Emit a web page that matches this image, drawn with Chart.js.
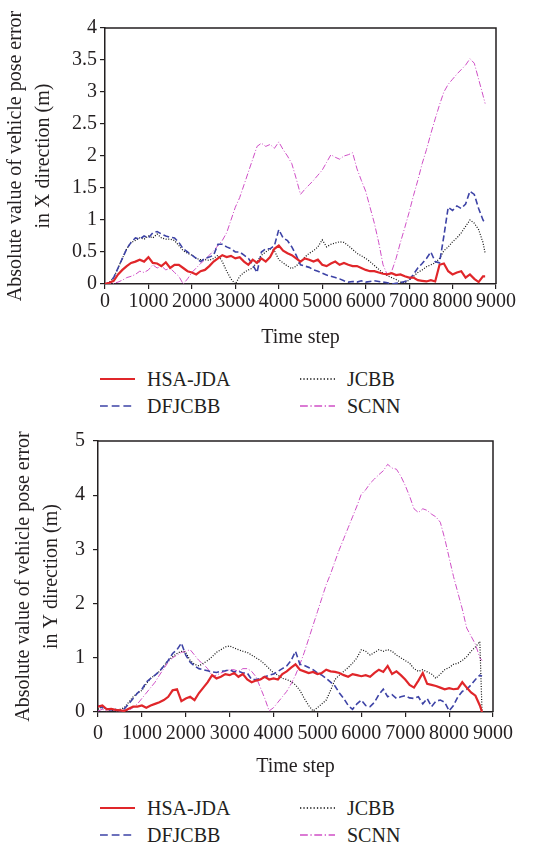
<!DOCTYPE html>
<html>
<head>
<meta charset="utf-8">
<script src="https://cdn.jsdelivr.net/npm/chart.js@4.4.1/dist/chart.umd.min.js"></script>
<style>
  html, body { margin: 0; padding: 0; background: #fff; }
  body { width: 538px; height: 846px; position: relative; overflow: hidden;
         font-family: "Liberation Serif", "DejaVu Serif", serif; color: #231f20; }
  canvas { position: absolute; left: 0; }
  .legend-item { position: absolute; height: 24px; display: flex; align-items: center;
                 font-size: 20px; white-space: nowrap; }
  .legend-item span { margin-left: 12px; }
</style>
</head>
<body>
<canvas id="errorChartX" width="538" height="350" style="top:0px"></canvas>
<div id="legendX"></div>
<canvas id="errorChartY" width="538" height="359" style="top:420px"></canvas>
<div id="legendY"></div>

<script>
// time steps (shared by every series)
const steps = [0,100,200,300,400,500,600,700,800,900,1000,1100,1200,1300,1400,1500,1600,1700,1800,1900,
  2000,2100,2200,2300,2400,2500,2600,2700,2800,2900,3000,3100,3200,3300,3400,3500,3600,3700,3800,3900,
  4000,4100,4200,4300,4400,4500,4600,4700,4800,4900,5000,5100,5200,5300,5400,5500,5600,5700,5800,5900,
  6000,6100,6200,6300,6400,6500,6600,6700,6800,6900,7000,7100,7200,7300,7400,7500,7600,7700,7800,7900,
  8000,8100,8200,8300,8400,8500,8600,8700,8750];

const seriesNames = ['HSA-JDA', 'DFJCBB', 'JCBB', 'SCNN'];

// X direction error (m)
const hsaX = [0,0.02,0.05,0.15,0.22,0.28,0.33,0.35,0.38,0.35,0.42,0.33,0.32,0.28,0.34,0.25,0.3,0.3,0.25,0.2,
  0.18,0.15,0.2,0.22,0.28,0.35,0.4,0.45,0.42,0.44,0.4,0.42,0.35,0.3,0.38,0.33,0.4,0.35,0.42,0.55,
  0.6,0.52,0.48,0.45,0.4,0.35,0.4,0.38,0.35,0.38,0.3,0.28,0.32,0.35,0.3,0.33,0.3,0.28,0.28,0.25,
  0.22,0.2,0.2,0.18,0.16,0.15,0.17,0.14,0.15,0.12,0.1,0.1,0.06,0.05,0.04,0.06,0.04,0.3,0.32,0.2,
  0.15,0.18,0.2,0.1,0.15,0.08,0.03,0.12,0.12];
const dfjcbbX = [0,0.02,0.1,0.25,0.4,0.55,0.65,0.72,0.7,0.75,0.72,0.8,0.82,0.78,0.75,0.73,0.72,0.65,0.55,0.5,
  0.45,0.4,0.35,0.4,0.42,0.45,0.62,0.62,0.58,0.55,0.5,0.5,0.45,0.4,0.3,0.18,0.5,0.55,0.55,0.6,
  0.85,0.72,0.68,0.58,0.45,0.3,0.28,0.26,0.22,0.2,0.17,0.14,0.12,0.1,0.08,0.05,0.03,0.04,0.03,0.05,
  0.03,0.04,0.05,0.04,0.03,0.02,0,0.01,0.02,0.04,0.06,0.15,0.25,0.32,0.4,0.5,0.35,0.33,0.75,1.2,
  1.15,1.22,1.18,1.25,1.45,1.4,1.18,1.0,0.95];
const jcbbX = [0,0.02,0.1,0.25,0.4,0.55,0.65,0.68,0.72,0.7,0.75,0.72,0.78,0.72,0.7,0.7,0.68,0.6,0.52,0.48,
  0.45,0.4,0.38,0.38,0.37,0.4,0.45,0.35,0.2,0.08,0,0.12,0.18,0.22,0.25,0.35,0.45,0.5,0.55,0.52,
  0.38,0.33,0.28,0.24,0.28,0.35,0.42,0.48,0.52,0.58,0.69,0.58,0.62,0.64,0.66,0.65,0.6,0.54,0.48,0.44,
  0.4,0.35,0.29,0.23,0.17,0.13,0.1,0.07,0.03,0.02,0.06,0.12,0.18,0.22,0.27,0.3,0.33,0.4,0.52,0.58,
  0.66,0.72,0.8,0.9,1.0,0.95,0.85,0.65,0.48];
const scnnX = [0,0,0.01,0.03,0.06,0.1,0.12,0.15,0.2,0.18,0.22,0.3,0.25,0.28,0.22,0.25,0.18,0.12,0,0.08,
  0.18,0.25,0.32,0.38,0.45,0.52,0.6,0.68,0.8,1.0,1.2,1.35,1.55,1.75,1.95,2.15,2.2,2.15,2.18,2.12,
  2.22,2.1,2.0,1.88,1.65,1.4,1.48,1.55,1.62,1.7,1.78,1.9,2.02,1.98,1.95,2.0,2.02,2.05,1.8,1.62,
  1.45,1.2,0.95,0.65,0.3,0.14,0.2,0.4,0.65,0.88,1.12,1.38,1.62,1.88,2.1,2.35,2.58,2.8,3.0,3.12,
  3.2,3.28,3.35,3.42,3.52,3.45,3.2,2.95,2.82];

// Y direction error (m)
const hsaY = [0.1,0.12,0.05,0.06,0.04,0.03,0.02,0.06,0.1,0.1,0.12,0.08,0.12,0.15,0.18,0.22,0.28,0.4,0.42,0.2,
  0.25,0.28,0.22,0.35,0.45,0.55,0.68,0.62,0.65,0.7,0.68,0.72,0.65,0.7,0.6,0.55,0.58,0.6,0.65,0.6,
  0.62,0.6,0.7,0.75,0.82,0.88,0.78,0.75,0.72,0.74,0.7,0.72,0.78,0.75,0.74,0.72,0.68,0.65,0.7,0.68,
  0.66,0.68,0.65,0.72,0.78,0.74,0.85,0.7,0.75,0.68,0.6,0.5,0.45,0.58,0.72,0.52,0.5,0.48,0.45,0.42,
  0.44,0.42,0.43,0.55,0.45,0.36,0.3,0.12,0];
const dfjcbbY = [0.12,0.08,0.06,0.04,0.05,0.02,0.06,0.15,0.25,0.35,0.42,0.55,0.62,0.68,0.75,0.85,0.95,1.08,1.15,1.27,
  1.05,0.92,0.85,0.8,0.78,0.76,0.74,0.73,0.75,0.76,0.78,0.74,0.75,0.72,0.72,0.6,0.6,0.62,0.65,0.68,
  0.7,0.75,0.8,0.85,0.95,1.12,0.88,0.86,0.82,0.78,0.72,0.68,0.62,0.55,0.48,0.35,0.25,0.12,0.05,0.15,
  0.22,0.12,0.1,0.18,0.32,0.42,0.28,0.32,0.25,0.28,0.3,0.26,0.25,0.28,0.15,0.25,0.1,0.2,0.22,0.18,
  0.02,0.12,0.28,0.38,0.42,0.5,0.6,0.68,0.66];
const jcbbY = [0.05,0.1,0.05,0.03,0.04,0.05,0.08,0.18,0.28,0.35,0.4,0.52,0.62,0.68,0.75,0.85,0.95,1.02,1.08,1.12,
  1.1,0.95,0.88,0.85,0.9,0.95,1.02,1.1,1.15,1.2,1.22,1.18,1.15,1.12,1.1,1.05,1.0,0.95,0.88,0.8,
  0.72,0.68,0.62,0.6,0.56,0.5,0.4,0.25,0.12,0.02,0.08,0.15,0.22,0.4,0.6,0.68,0.75,0.82,0.9,1.0,
  1.15,1.12,1.05,1.1,1.15,1.12,1.15,1.12,1.05,1.0,0.95,0.9,0.8,0.75,0.78,0.74,0.7,0.62,0.7,0.78,
  0.82,0.88,0.9,0.95,1.02,1.12,1.2,1.3,0];
const scnnY = [0.02,0.05,0.02,0.04,0.02,0.03,0.01,0.03,0.08,0.15,0.25,0.35,0.45,0.55,0.68,0.8,0.92,1.0,1.05,1.1,
  1.12,1.15,1.05,0.95,0.88,0.8,0.65,0.68,0.72,0.75,0.78,0.78,0.75,0.8,0.8,0.75,0.65,0.45,0.25,0.02,
  0.08,0.18,0.28,0.38,0.52,0.68,0.88,1.1,1.35,1.6,1.85,2.1,2.35,2.55,2.78,3.0,3.2,3.4,3.6,3.8,
  4.02,4.1,4.22,4.3,4.38,4.45,4.57,4.5,4.48,4.35,4.18,3.98,3.75,3.68,3.75,3.72,3.65,3.6,3.5,3.2,
  2.85,2.5,2.2,1.9,1.55,1.4,1.25,1.0,0.95];

// tick labels
const xTickLabels = ['0','1000','2000','3000','4000','5000','6000','7000','8000','9000'];
const yTickLabelsX = ['0','0.5','1','1.5','2','2.5','3','3.5','4'];
const yTickLabelsY = ['0','1','2','3','4','5'];

const lineColors = ['#e0262a', '#3d43a6', '#111111', '#cf4fc6'];
const lineWidths = [2.2, 1.6, 1.2, 1];
const lineDashes = [[], [6, 3], [1, 1.6], [6, 2, 1, 2]];

const INK = '#231f20';
const FONT = '"Liberation Serif", "DejaVu Serif", serif';

// draws the top/right sides of the plot box
const frameBox = {
    id: 'frameBox',
    afterDraw(chart) {
        const a = chart.chartArea;
        const ctx = chart.ctx;
        ctx.save();
        ctx.strokeStyle = INK;
        ctx.lineWidth = 1.5;
        ctx.beginPath();
        ctx.moveTo(a.left, a.top);
        ctx.lineTo(a.right, a.top);
        ctx.lineTo(a.right, a.bottom);
        ctx.stroke();
        ctx.restore();
    }
};

function buildChart(canvasId, cfg) {
    const ctx = document.getElementById(canvasId).getContext('2d');
    return new Chart(ctx, {
        type: 'line',
        data: {
            datasets: seriesNames.map((name, i) => ({
                label: name,
                data: steps.map((s, k) => ({ x: s, y: cfg.values[i][k] })),
                borderColor: lineColors[i],
                borderWidth: lineWidths[i],
                borderDash: lineDashes[i],
                pointRadius: 0,
                fill: false,
                tension: 0
            }))
        },
        options: {
            responsive: false,
            animation: false,
            devicePixelRatio: 1,
            layout: { padding: cfg.padding },
            plugins: { legend: { display: false }, tooltip: { enabled: false } },
            scales: {
                x: {
                    type: 'linear', min: 0, max: 9000,
                    grid: { display: true, drawOnChartArea: false, drawTicks: true, tickLength: 5, color: INK, lineWidth: 1.2 },
                    border: { display: true, color: INK, width: 1.5 },
                    ticks: { stepSize: 1000, maxRotation: 0, autoSkip: false, padding: cfg.xPad, color: INK,
                             font: { family: FONT, size: 20 },
                             callback: (v, i) => xTickLabels[i] },
                    title: { display: true, text: 'Time step', color: INK, padding: 0,
                             font: { family: FONT, size: 20 } },
                    afterFit: scale => { scale.height = cfg.xHeight; }
                },
                y: {
                    min: 0, max: cfg.yMax,
                    grid: { display: true, drawOnChartArea: false, drawTicks: true, tickLength: 5, color: INK, lineWidth: 1.2 },
                    border: { display: true, color: INK, width: 1.5 },
                    ticks: { stepSize: cfg.yStep, padding: cfg.yPad, color: INK,
                             font: { family: FONT, size: 20 },
                             callback: (v, i) => cfg.yLabels[i] },
                    title: { display: true, text: cfg.yTitle, color: INK,
                             padding: { top: cfg.titlePad, bottom: 0 },
                             font: { family: FONT, size: 20, lineHeight: 1.4 } },
                    afterFit: scale => { scale.width = cfg.yWidth; }
                }
            }
        },
        plugins: [frameBox]
    });
}

function buildLegend(holderId, rows) {
    const holder = document.getElementById(holderId);
    const cols = [100, 300];
    seriesNames.forEach((name, i) => {
        // legend order: column 1 = HSA-JDA, DFJCBB; column 2 = JCBB, SCNN
        const col = i < 2 ? 0 : 1;
        const row = i % 2;
        const item = document.createElement('div');
        item.className = 'legend-item';
        item.style.left = cols[col] + 'px';
        item.style.top = (rows[row] - 12) + 'px';
        const dash = lineDashes[i].length ? lineDashes[i].map(d => d * 1.3).join(' ') : 'none';
        item.innerHTML =
            '<svg width="35" height="6"><line x1="0" y1="3" x2="35" y2="3" stroke="' + lineColors[i] +
            '" stroke-width="' + Math.max(lineWidths[i], 1.3) + '" stroke-dasharray="' + dash + '"/></svg>' +
            '<span>' + name + '</span>';
        holder.appendChild(item);
    });
}

buildChart('errorChartX', {
    values: [hsaX, dfjcbbX, jcbbX, scnnX],
    yMax: 4, yStep: 0.5, yLabels: yTickLabelsX,
    yTitle: ['Absolute value of vehicle pose error', 'in X direction (m)'],
    padding: { top: 28, right: 42, left: 0, bottom: 0 },
    yWidth: 105, xHeight: 66, xPad: 1, yPad: 3, titlePad: 2
});
buildLegend('legendX', [379, 406]);

buildChart('errorChartY', {
    values: [hsaY, dfjcbbY, jcbbY, scnnY],
    yMax: 5, yStep: 1, yLabels: yTickLabelsY,
    yTitle: ['Absolute value of vehicle pose error', 'in Y direction (m)'],
    padding: { top: 21, right: 45, left: 0, bottom: 0 },
    yWidth: 98, xHeight: 67, xPad: 5, yPad: 8, titlePad: 10
});
buildLegend('legendY', [808, 835]);
</script>
</body>
</html>
